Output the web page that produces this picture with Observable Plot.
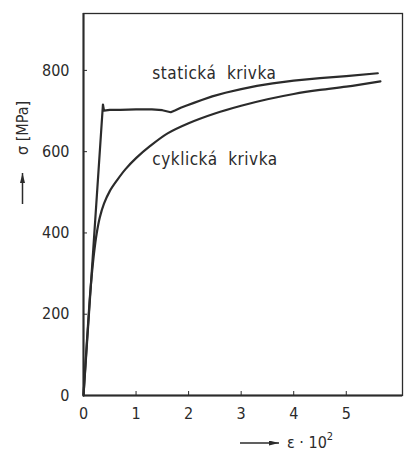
<!DOCTYPE html>
<html>
<head>
<meta charset="utf-8">
<script src="https://cdn.jsdelivr.net/npm/d3@7"></script>
<script src="https://cdn.jsdelivr.net/npm/@observablehq/plot@0.6"></script>
<style>
  html, body { margin: 0; padding: 0; background: #fff; }
  #chart { position: relative; width: 406px; height: 453px; }
  svg { font-family: "DejaVu Sans Condensed", "DejaVu Sans", sans-serif; font-stretch: condensed; }
</style>
</head>
<body>
<div id="chart"></div>
<script>
// strain ε·10² and stress σ [MPa]
const staticEps   = [0, 0.37, 0.39, 0.5, 0.7, 1.0, 1.3, 1.5, 1.66, 1.75, 1.85, 1.95, 2.1, 2.25, 2.45, 2.7, 3.0, 3.3, 3.6, 4.0, 4.5, 5.0, 5.6];
const staticSigma = [0, 716, 701, 703, 703, 704, 704, 702, 697, 702, 708, 713, 720, 727, 736, 745, 754, 762, 768, 775, 781, 786, 793];
const cyclicEps   = [0, 0.12, 0.16, 0.2, 0.25, 0.31, 0.39, 0.5, 0.64, 0.8, 1.0, 1.27, 1.6, 2.0, 2.5, 3.0, 3.5, 4.0, 4.5, 5.0, 5.65];
const cyclicSigma = [0, 240, 300, 350, 398, 438, 472, 503, 530, 557, 584, 614, 645, 670, 694, 713, 729, 742, 752, 760, 773];
const xTicks = [0, 1, 2, 3, 4, 5];
const yTicks = [0, 200, 400, 600, 800];
const curveLabels = [
  {text: "statická  krivka", eps: 1.31, sigma: 793},
  {text: "cyklická  krivka", eps: 1.31, sigma: 581}
];

const staticData = staticEps.map((e, i) => ({e, s: staticSigma[i]}));
const cyclicData = cyclicEps.map((e, i) => ({e, s: cyclicSigma[i]}));
const ink = "#2b2b2b";

const plot = Plot.plot({
  width: 406,
  height: 453,
  marginLeft: 83,
  marginTop: 13,
  marginRight: 4,
  marginBottom: 58,
  style: {fontSize: "16px", color: ink, background: "#fff"},
  x: {domain: [0, 6.07]},
  y: {domain: [0, 940]},
  marks: [
    Plot.frame({stroke: ink, strokeWidth: 1.3}),
    Plot.axisX({ticks: xTicks, tickFormat: d => String(d), tickSize: -4, tickPadding: 16, label: null, stroke: ink, fill: ink}),
    Plot.axisY({ticks: yTicks, tickFormat: d => String(d), tickSize: -4, tickPadding: 18, label: null, stroke: ink, fill: ink}),
    Plot.ruleY([0], {stroke: ink, strokeWidth: 2}),
    Plot.ruleX([0], {stroke: ink, strokeWidth: 2}),
    Plot.line(staticData, {x: "e", y: "s", stroke: ink, strokeWidth: 2.2, curve: "linear"}),
    Plot.line(cyclicData, {x: "e", y: "s", stroke: ink, strokeWidth: 2.2, curve: "catmull-rom"}),
    Plot.text(curveLabels, {x: "eps", y: "sigma", text: "text", textAnchor: "start", fill: ink, fontSize: 17})
  ]
});
document.getElementById("chart").appendChild(plot);

const svg = d3.select(plot);
svg.selectAll('g[aria-label="text"] text').style("letter-spacing", "0.5px");

// arrowhead marker
const defs = svg.append("defs");
defs.append("marker")
  .attr("id", "ah").attr("viewBox", "0 0 12 6").attr("refX", 12).attr("refY", 3)
  .attr("markerWidth", 12).attr("markerHeight", 5).attr("markerUnits", "userSpaceOnUse")
  .attr("orient", "auto")
  .append("path").attr("d", "M0,0L12,3L0,6Z").attr("fill", ink);

// y axis title
svg.append("text")
  .attr("transform", "translate(28,128) rotate(-90)")
  .attr("text-anchor", "middle")
  .attr("fill", ink)
  .attr("font-size", 16)
  .text("σ [MPa]");
svg.append("line")
  .attr("x1", 22.5).attr("y1", 204).attr("x2", 22.5).attr("y2", 173)
  .attr("stroke", ink).attr("stroke-width", 1.5).attr("marker-end", "url(#ah)");

// x axis title
svg.append("line")
  .attr("x1", 240).attr("y1", 443).attr("x2", 279).attr("y2", 443)
  .attr("stroke", ink).attr("stroke-width", 1.5).attr("marker-end", "url(#ah)");
const xt = svg.append("text")
  .attr("x", 287).attr("y", 448)
  .attr("text-anchor", "start")
  .attr("fill", ink)
  .attr("font-size", 16);
xt.append("tspan").text("ε · 10");
xt.append("tspan").attr("dy", -8).attr("font-size", 11).text("2");
</script>
</body>
</html>
